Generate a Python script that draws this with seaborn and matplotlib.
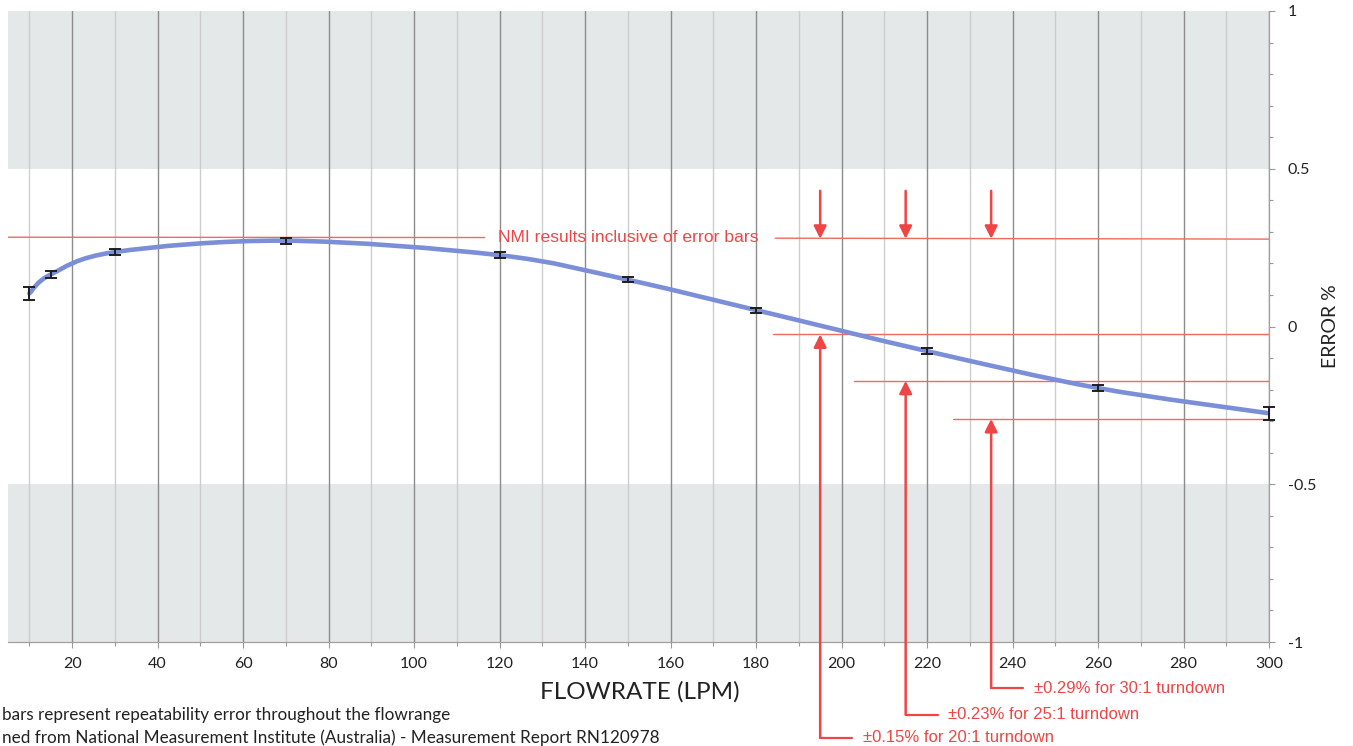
import numpy as np
import matplotlib.pyplot as plt
import seaborn as sns
from matplotlib.path import Path
from matplotlib.patches import PathPatch
from matplotlib.ticker import MultipleLocator

sns.set_theme(style="ticks")
plt.rcParams["font.family"] = ["Lato", "DejaVu Sans"]

flow = [10, 15, 30, 70, 120, 150, 180, 220, 260, 300]
error = [0.105, 0.165, 0.236, 0.272, 0.226, 0.148, 0.052, -0.078, -0.195, -0.275]
repeat = [0.02, 0.01, 0.009, 0.009, 0.009, 0.008, 0.008, 0.009, 0.009, 0.02]

x_ticks = list(range(20, 301, 20))
y_ticks = [-1, -0.5, 0, 0.5, 1]

nmi_level = 0.28
nmi_label = "NMI results inclusive of error bars"
arrow_x = [195, 215, 235]
turndown_level = [-0.025, -0.172, -0.293]
turndown_start = [184, 203, 226]
turndown_text_y = [-1.303, -1.231, -1.146]
turndown_labels = ["±0.15% for 20:1 turndown",
                   "±0.23% for 25:1 turndown",
                   "±0.29% for 30:1 turndown"]

# footnotes as visible in the (left-cropped) scan
note_lines = ["bars represent repeatability error throughout the flowrange",
              "ned from National Measurement Institute (Australia) - Measurement Report RN120978"]

RED = "#ee4646"
LINE_RED = "#f06a5e"
BLUE = "#7b8ed8"


def smooth_path(xs, ys):
    # bezier smoothing like a spreadsheet "smoothed line"
    pts = np.column_stack([xs, ys]).astype(float)
    ext = np.vstack([pts[0], pts, pts[-1]])
    verts = [pts[0]]
    codes = [Path.MOVETO]
    for i in range(len(pts) - 1):
        p0, p1, p2, p3 = ext[i], ext[i + 1], ext[i + 2], ext[i + 3]
        verts += [p1 + (p2 - p0) / 6, p2 - (p3 - p1) / 6, p2]
        codes += [Path.CURVE4] * 3
    return Path(verts, codes)


fig = plt.figure(figsize=(13.53, 7.46), dpi=100)
ax = fig.add_axes([8 / 1353, 104 / 746, 1261 / 1353, 631 / 746])

ax.set_xlim(5, 300)
ax.set_ylim(-1, 1)
ax.set_facecolor("white")

ax.axhspan(0.5, 1, color="#e4e8e8", zorder=0, lw=0)
ax.axhspan(-1, -0.5, color="#e4e8e8", zorder=0, lw=0)

ax.xaxis.set_major_locator(MultipleLocator(20))
ax.xaxis.set_minor_locator(MultipleLocator(10))
ax.yaxis.set_major_locator(MultipleLocator(0.5))
ax.yaxis.set_minor_locator(MultipleLocator(0.1))
ax.set_xticks(x_ticks)
ax.set_yticks(y_ticks)
ax.set_yticklabels(["-1", "-0.5", "0", "0.5", "1"])
ax.grid(axis="x", which="major", color="#8c8c8c", lw=1.0)
ax.grid(axis="x", which="minor", color="#cdcdcd", lw=1.0)
ax.grid(axis="y", visible=False)
ax.set_axisbelow(True)

ax.yaxis.tick_right()
ax.tick_params(axis="both", which="major", direction="out", length=4.5, width=0.8,
               color="#999999", labelsize=11.5, labelcolor="#222222", pad=6)
ax.tick_params(axis="both", which="minor", direction="out", length=3, width=0.8,
               color="#999999")
ax.tick_params(axis="y", which="both", left=False, right=True, pad=9)
for side in ["left", "top"]:
    ax.spines[side].set_visible(False)
for side in ["right", "bottom"]:
    ax.spines[side].set_color("#a0a0a0")
    ax.spines[side].set_linewidth(0.9)

ax.set_xlabel("FLOWRATE (LPM)", fontsize=17.5, color="#222222", va="center")
ax.xaxis.set_label_coords((640 - 8) / 1261, -(692 - 642) / 631)
ax.yaxis.set_label_position("right")
ax.set_ylabel("ERROR %", fontsize=14, color="#222222", rotation=90, va="center")
ax.yaxis.set_label_coords((1330 - 8) / 1261, 0.5)

# error curve + repeatability bars
ax.add_patch(PathPatch(smooth_path(flow, error), facecolor="none", edgecolor=BLUE,
                       lw=3.3, capstyle="round", zorder=3))
eb = ax.errorbar(flow, error, yerr=repeat, fmt="none", ecolor="#1e1e1e", elinewidth=1.4,
                 capsize=4, capthick=1.4, zorder=4)
for art in list(eb.lines[1]) + list(eb.lines[2]):
    art.set_clip_on(False)

# NMI band annotation
ax.plot([5, 116.5], [nmi_level + 0.003, nmi_level + 0.002], color=LINE_RED, lw=1, zorder=2)
ax.plot([184.5, 300], [nmi_level, nmi_level - 0.003], color=LINE_RED, lw=1, zorder=2)
ax.text(150, nmi_level + 0.002, nmi_label, color=RED, fontsize=12.6,
        family=["Liberation Sans", "DejaVu Sans"], ha="center", va="center")

for x, lvl, start, ty, lab in zip(arrow_x, turndown_level, turndown_start,
                                  turndown_text_y, turndown_labels):
    ax.annotate("", xy=(x, nmi_level - 0.002), xytext=(x, 0.43),
                arrowprops=dict(arrowstyle="-|>", color=RED, lw=1.8,
                                mutation_scale=19, shrinkA=0, shrinkB=0), zorder=5)
    ax.plot([start, 300], [lvl, lvl], color=LINE_RED, lw=1, zorder=2)
    ax.annotate("", xy=(x, lvl), xytext=(x, ty),
                arrowprops=dict(arrowstyle="-|>", color=RED, lw=1.8,
                                mutation_scale=19, shrinkA=0, shrinkB=0),
                annotation_clip=False, zorder=5)
    ax.plot([x, x + 7.5], [ty, ty], color=RED, lw=1.6, clip_on=False, zorder=5)
    ax.text(x + 10, ty, lab, color=RED, fontsize=12,
            family=["Liberation Sans", "DejaVu Sans"], ha="left", va="center")

# footnotes
fig.text(2 / 1353, 1 - 715 / 746, note_lines[0],
         ha="left", va="center", fontsize=12.3, color="#222222")
fig.text(2 / 1353, 1 - 738 / 746, note_lines[1],
         ha="left", va="center", fontsize=12.3, color="#222222")

fig.savefig("out.png", dpi=100)
